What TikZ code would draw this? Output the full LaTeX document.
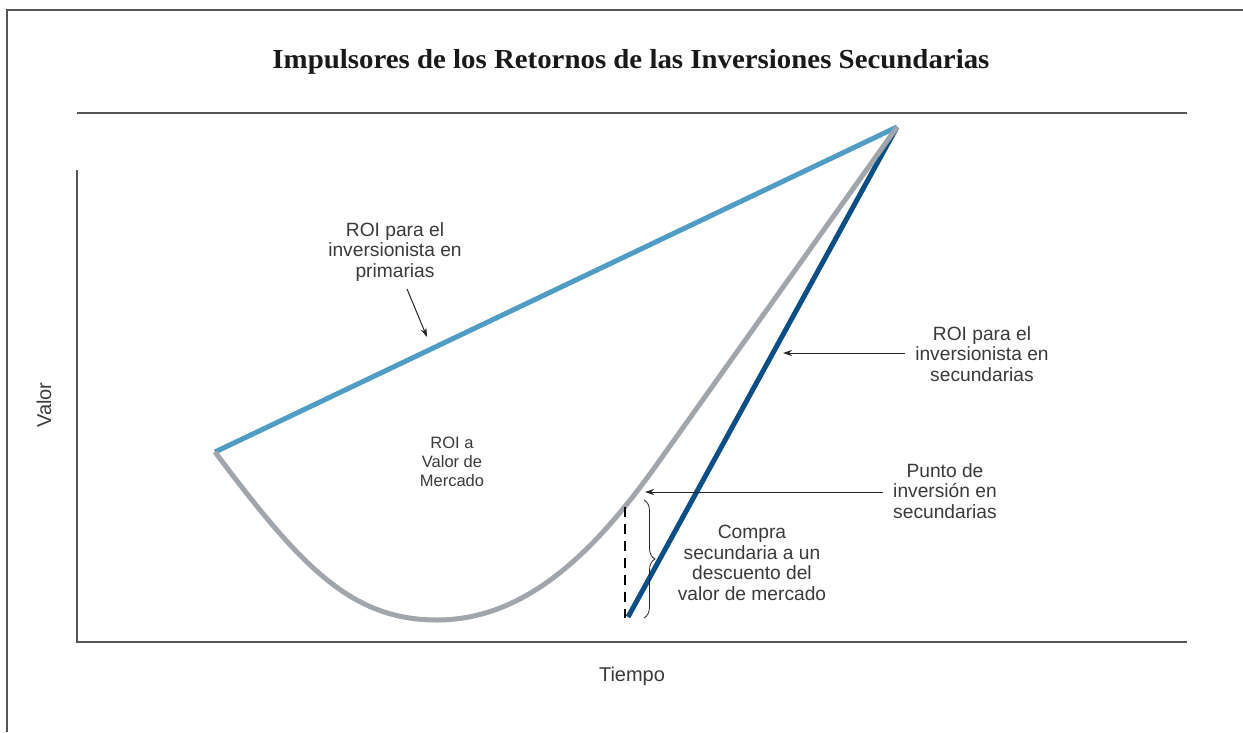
\documentclass[tikz,border=0pt]{standalone}
\usepackage{fontspec}
\usepackage{graphicx}
\setmainfont{Liberation Sans}
\newfontfamily\titlefont{Liberation Serif}
\usetikzlibrary{decorations.pathreplacing,arrows.meta}
\definecolor{lblue}{HTML}{4F9DC5}
\definecolor{dblue}{HTML}{0B4F86}
\definecolor{cgray}{HTML}{A0A6AB}
\definecolor{txt}{HTML}{3A3A3A}
\definecolor{axiscol}{HTML}{555555}
\begin{document}
\begin{tikzpicture}[x=1pt,y=-1pt,
  lbl/.style={font=\fontsize{19.2}{20.5}\selectfont, text=txt, align=center, inner sep=0pt},
  axlbl/.style={font=\fontsize{20}{22}\selectfont, text=txt, inner sep=0pt},
  pointer/.style={draw=black!85, line width=1pt, -{Stealth[length=9pt,width=6pt]}},
  curve/.style={line width=5pt, line cap=butt, line join=miter},
  axisline/.style={draw=axiscol, line width=1.6pt}]
\useasboundingbox (0,0) rectangle (1243,732);
% frame
\coordinate (f1) at (7,732);
\coordinate (f2) at (7,10);
\coordinate (f3) at (1243,10);
\draw[axisline, line width=1.2pt] (f1) -- (f2) -- (f3);
% title
\node[font=\titlefont\bfseries\fontsize{27.5}{30}\selectfont, text=black!90, anchor=base, inner sep=0pt] (title) at (631,68)
  {\resizebox{717pt}{\height}{Impulsores de los Retornos de las Inversiones Secundarias}};
\coordinate (rl) at (77,113);
\coordinate (rr) at (1187,113);
\draw[axisline] (rl) -- (rr);
% axes
\coordinate (ytop) at (77,170);
\coordinate (o) at (77,642);
\coordinate (xend) at (1187,642);
\draw[axisline] (ytop) -- (o) -- (xend);
\node[axlbl, rotate=90] (valor) at (44,405) {Valor};
\node[axlbl, anchor=base] (tiempo) at (632,681) {Tiempo};
% key points
\coordinate (A) at (215,452);
\coordinate (P) at (897,127);
\coordinate (B) at (628,617);
\coordinate (M) at (437,620);
\coordinate (K) at (660,460);
% lines
\draw[curve, lblue] (A) -- (P);
\draw[curve, dblue] (B) -- (P);
\draw[curve, cgray] (A) .. controls (300,565) and (350,620) .. (M)
   .. controls (530,620) and (600,545) .. (K) -- (P);
% dashed and brace
\coordinate (d1) at (625,507);
\coordinate (d2) at (625,618);
\draw[black, line width=2.5pt, dash pattern=on 10pt off 7pt] (d1) -- (d2);
\coordinate (b1) at (644,500);
\coordinate (b2) at (644,618);
\draw[black!85, line width=0.8pt, decorate, decoration={brace, amplitude=11pt}] (b1) -- (b2);
% labels
\node[lbl] (prim) at (395,252) {ROI para el\\inversionista en\\primarias};
\node[lbl, font=\fontsize{16.5}{19}\selectfont] (mkt) at (452,462) {ROI a\\Valor de\\Mercado};
\node[lbl] (sec) at (982,354) {ROI para el\\inversionista en\\secundarias};
\node[lbl] (punto) at (945,491) {Punto de\\inversión en\\secundarias};
\node[lbl] (compra) at (752,563) {Compra\\secundaria a un\\descuento del\\valor de mercado};
% pointers
\coordinate (p1s) at (407,289);
\coordinate (p1e) at (427,337);
\draw[pointer] (p1s) -- (p1e);
\coordinate (p2s) at (905,353);
\coordinate (p2e) at (783,353);
\draw[pointer] (p2s) -- (p2e);
\coordinate (p3s) at (883,492);
\coordinate (p3e) at (645,492);
\draw[pointer] (p3s) -- (p3e);
\end{tikzpicture}
\end{document}
